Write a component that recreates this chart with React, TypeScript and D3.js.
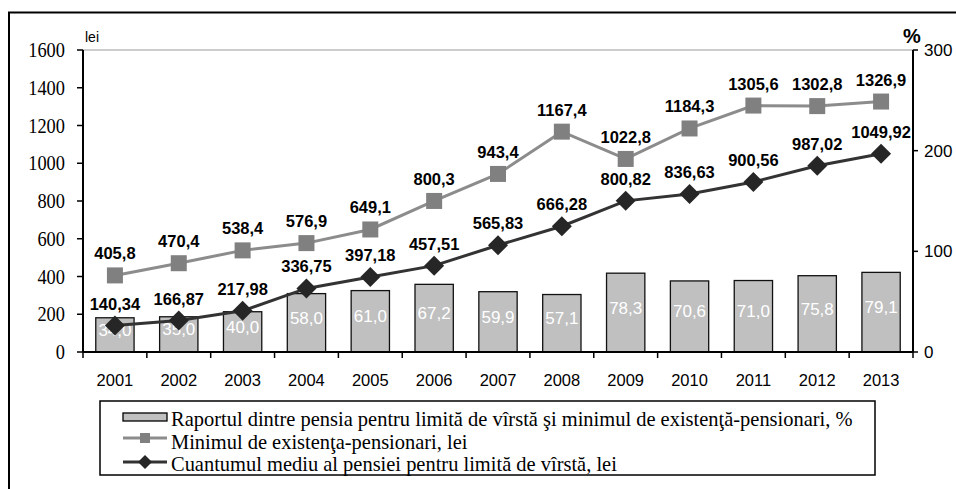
import React from 'react';
import * as d3 from 'd3';

const years = ['2001', '2002', '2003', '2004', '2005', '2006', '2007', '2008', '2009', '2010', '2011', '2012', '2013'];
const minimum = [405.8, 470.4, 538.4, 576.9, 649.1, 800.3, 943.4, 1167.4, 1022.8, 1184.3, 1305.6, 1302.8, 1326.9];
const pension = [140.34, 166.87, 217.98, 336.75, 397.18, 457.51, 565.83, 666.28, 800.82, 836.63, 900.56, 987.02, 1049.92];
const ratio = [34.0, 35.0, 40.0, 58.0, 61.0, 67.2, 59.9, 57.1, 78.3, 70.6, 71.0, 75.8, 79.1];
const leftTicks = [0, 200, 400, 600, 800, 1000, 1200, 1400, 1600];
const rightTicks = [0, 100, 200, 300];
const legendLabels = [
  'Raportul dintre pensia pentru limită de vîrstă şi minimul de existenţă-pensionari, %',
  'Minimul de existenţa-pensionari, lei',
  'Cuantumul mediu al pensiei pentru limită de vîrstă, lei',
];

const fmt = (v: number, d: number) => v.toFixed(d).replace('.', ',');
const fmtAuto = (v: number) => {
  const s = String(v);
  const dec = s.includes('.') ? s.split('.')[1].length : 0;
  return fmt(v, dec);
};

const SANS = '"Liberation Sans", Arial, sans-serif';
const SERIF = '"Liberation Serif", "Times New Roman", serif';

// serif text in the source is a little squeezed sideways
const Squeezed = ({ x, y, k, anchor, size, children }: any) => (
  <g transform={`translate(${x},${y}) scale(${k},1)`}>
    <text x={0} y={0} textAnchor={anchor} fontFamily={SERIF} fontSize={size} fill="#000">{children}</text>
  </g>
);

const App = () => {
  const left = 83, right = 913, top = 50, bottom = 352;
  const x = d3.scaleBand<string>().domain(years).range([left, right]).paddingInner(0.4).paddingOuter(0.2);
  const xb = d3.scaleBand<string>().domain(years).range([left, right]);
  const yL = d3.scaleLinear().domain([0, 1600]).range([bottom, top]);
  const yR = d3.scaleLinear().domain([0, 300]).range([bottom, top]);
  const cx = (y: string) => (xb(y) as number) + xb.bandwidth() / 2;

  const line = d3.line<number>().x((_, i) => cx(years[i])).y((d) => yL(d));

  const diamond = (px: number, py: number, r: number) =>
    `M${px},${py - r}L${px + r},${py}L${px},${py + r}L${px - r},${py}Z`;

  return (
    <div style={{ position: 'absolute', left: 0, top: 0 }}>
      <svg width={956} height={489} style={{ display: 'block', background: '#fff' }}>
        {/* outer frame */}
        <rect x={9} y={12.5} width={960} height={500} fill="none" stroke="#000" strokeWidth={2} />

        {/* top gridline */}
        <line x1={left} x2={right} y1={yL(1600)} y2={yL(1600)} stroke="#999" strokeWidth={1.2} />

        {/* bars */}
        {ratio.map((v, i) => (
          <rect key={'b' + i} x={x(years[i])} y={yR(v)} width={x.bandwidth()} height={bottom - yR(v)}
            fill="#c0c0c0" stroke="#111" strokeWidth={1.3} />
        ))}
        {ratio.map((v, i) => (
          <text key={'bl' + i} x={cx(years[i])} y={yR(v / 2) - 5} dy="0.35em" textAnchor="middle"
            fontFamily={SANS} fontSize={17} fill="#fff">{fmt(v, 1)}</text>
        ))}

        {/* minimum line */}
        <path d={line(minimum) as string} fill="none" stroke="#8c8c8c" strokeWidth={3} />
        {minimum.map((v, i) => (
          <rect key={'m' + i} x={cx(years[i]) - 8} y={yL(v) - 8} width={16} height={16} fill="#808080" />
        ))}
        {minimum.map((v, i) => (
          <text key={'ml' + i} x={cx(years[i])} y={yL(v) - 16} textAnchor="middle"
            fontFamily={SANS} fontSize={16.5} fontWeight="bold" fill="#000">{fmtAuto(v)}</text>
        ))}

        {/* pension line */}
        <path d={line(pension) as string} fill="none" stroke="#333" strokeWidth={3} />
        {pension.map((v, i) => (
          <path key={'p' + i} d={diamond(cx(years[i]), yL(v), 10)} fill="#262626" />
        ))}
        {pension.map((v, i) => (
          <text key={'pl' + i} x={cx(years[i])} y={yL(v) - 16} textAnchor="middle"
            fontFamily={SANS} fontSize={16.5} fontWeight="bold" fill="#000">{fmt(v, 2)}</text>
        ))}

        {/* axes */}
        <line x1={left} x2={left} y1={top} y2={bottom} stroke="#000" strokeWidth={2} />
        <line x1={right} x2={right} y1={top} y2={bottom} stroke="#000" strokeWidth={2} />
        <line x1={left} x2={right} y1={bottom} y2={bottom} stroke="#000" strokeWidth={2} />
        {leftTicks.map((t) => (
          <g key={'lt' + t}>
            <line x1={left - 6} x2={left} y1={yL(t)} y2={yL(t)} stroke="#000" strokeWidth={1.5} />
            <Squeezed x={left - 18} y={yL(t) + 7} k={0.92} anchor="end" size={20}>{t}</Squeezed>
          </g>
        ))}
        {rightTicks.map((t) => (
          <g key={'rt' + t}>
            <line x1={right} x2={right + 5} y1={yR(t)} y2={yR(t)} stroke="#000" strokeWidth={1.5} />
            <text x={right + 11} y={yR(t)} dy="0.35em" textAnchor="start" fontFamily={SANS} fontSize={17}>{t}</text>
          </g>
        ))}
        {years.map((y) => (
          <line key={'xt' + y} x1={xb(y) as number} x2={xb(y) as number}
            y1={bottom} y2={bottom + 6} stroke="#000" strokeWidth={1.5} />
        ))}
        <line x1={right} x2={right} y1={bottom} y2={bottom + 6} stroke="#000" strokeWidth={1.5} />
        {years.map((y) => (
          <text key={'xl' + y} x={cx(y)} y={386} textAnchor="middle" fontFamily={SANS} fontSize={16.5}>{y}</text>
        ))}

        <text x={85} y={42} fontFamily={SANS} fontSize={14}>lei</text>
        <text x={903} y={43} fontFamily={SANS} fontSize={20} fontWeight="bold">%</text>

        {/* legend */}
        <rect x={100} y={401} width={775} height={74} fill="#fff" stroke="#000" strokeWidth={1.5} />
        <rect x={123} y={413} width={44} height={8} fill="#c0c0c0" stroke="#000" strokeWidth={1.3} />
        <line x1={123} x2={167} y1={438} y2={438} stroke="#8c8c8c" strokeWidth={3} />
        <rect x={140} y={433} width={10} height={10} fill="#808080" />
        <line x1={123} x2={167} y1={462} y2={462} stroke="#333" strokeWidth={3} />
        <path d={diamond(145, 462, 7)} fill="#262626" />
        {legendLabels.map((l, i) => (
          <Squeezed key={'lg' + i} x={171} y={426 + i * 22.5} k={0.93} anchor="start" size={22}>{l}</Squeezed>
        ))}
      </svg>
    </div>
  );
};

export default App;
